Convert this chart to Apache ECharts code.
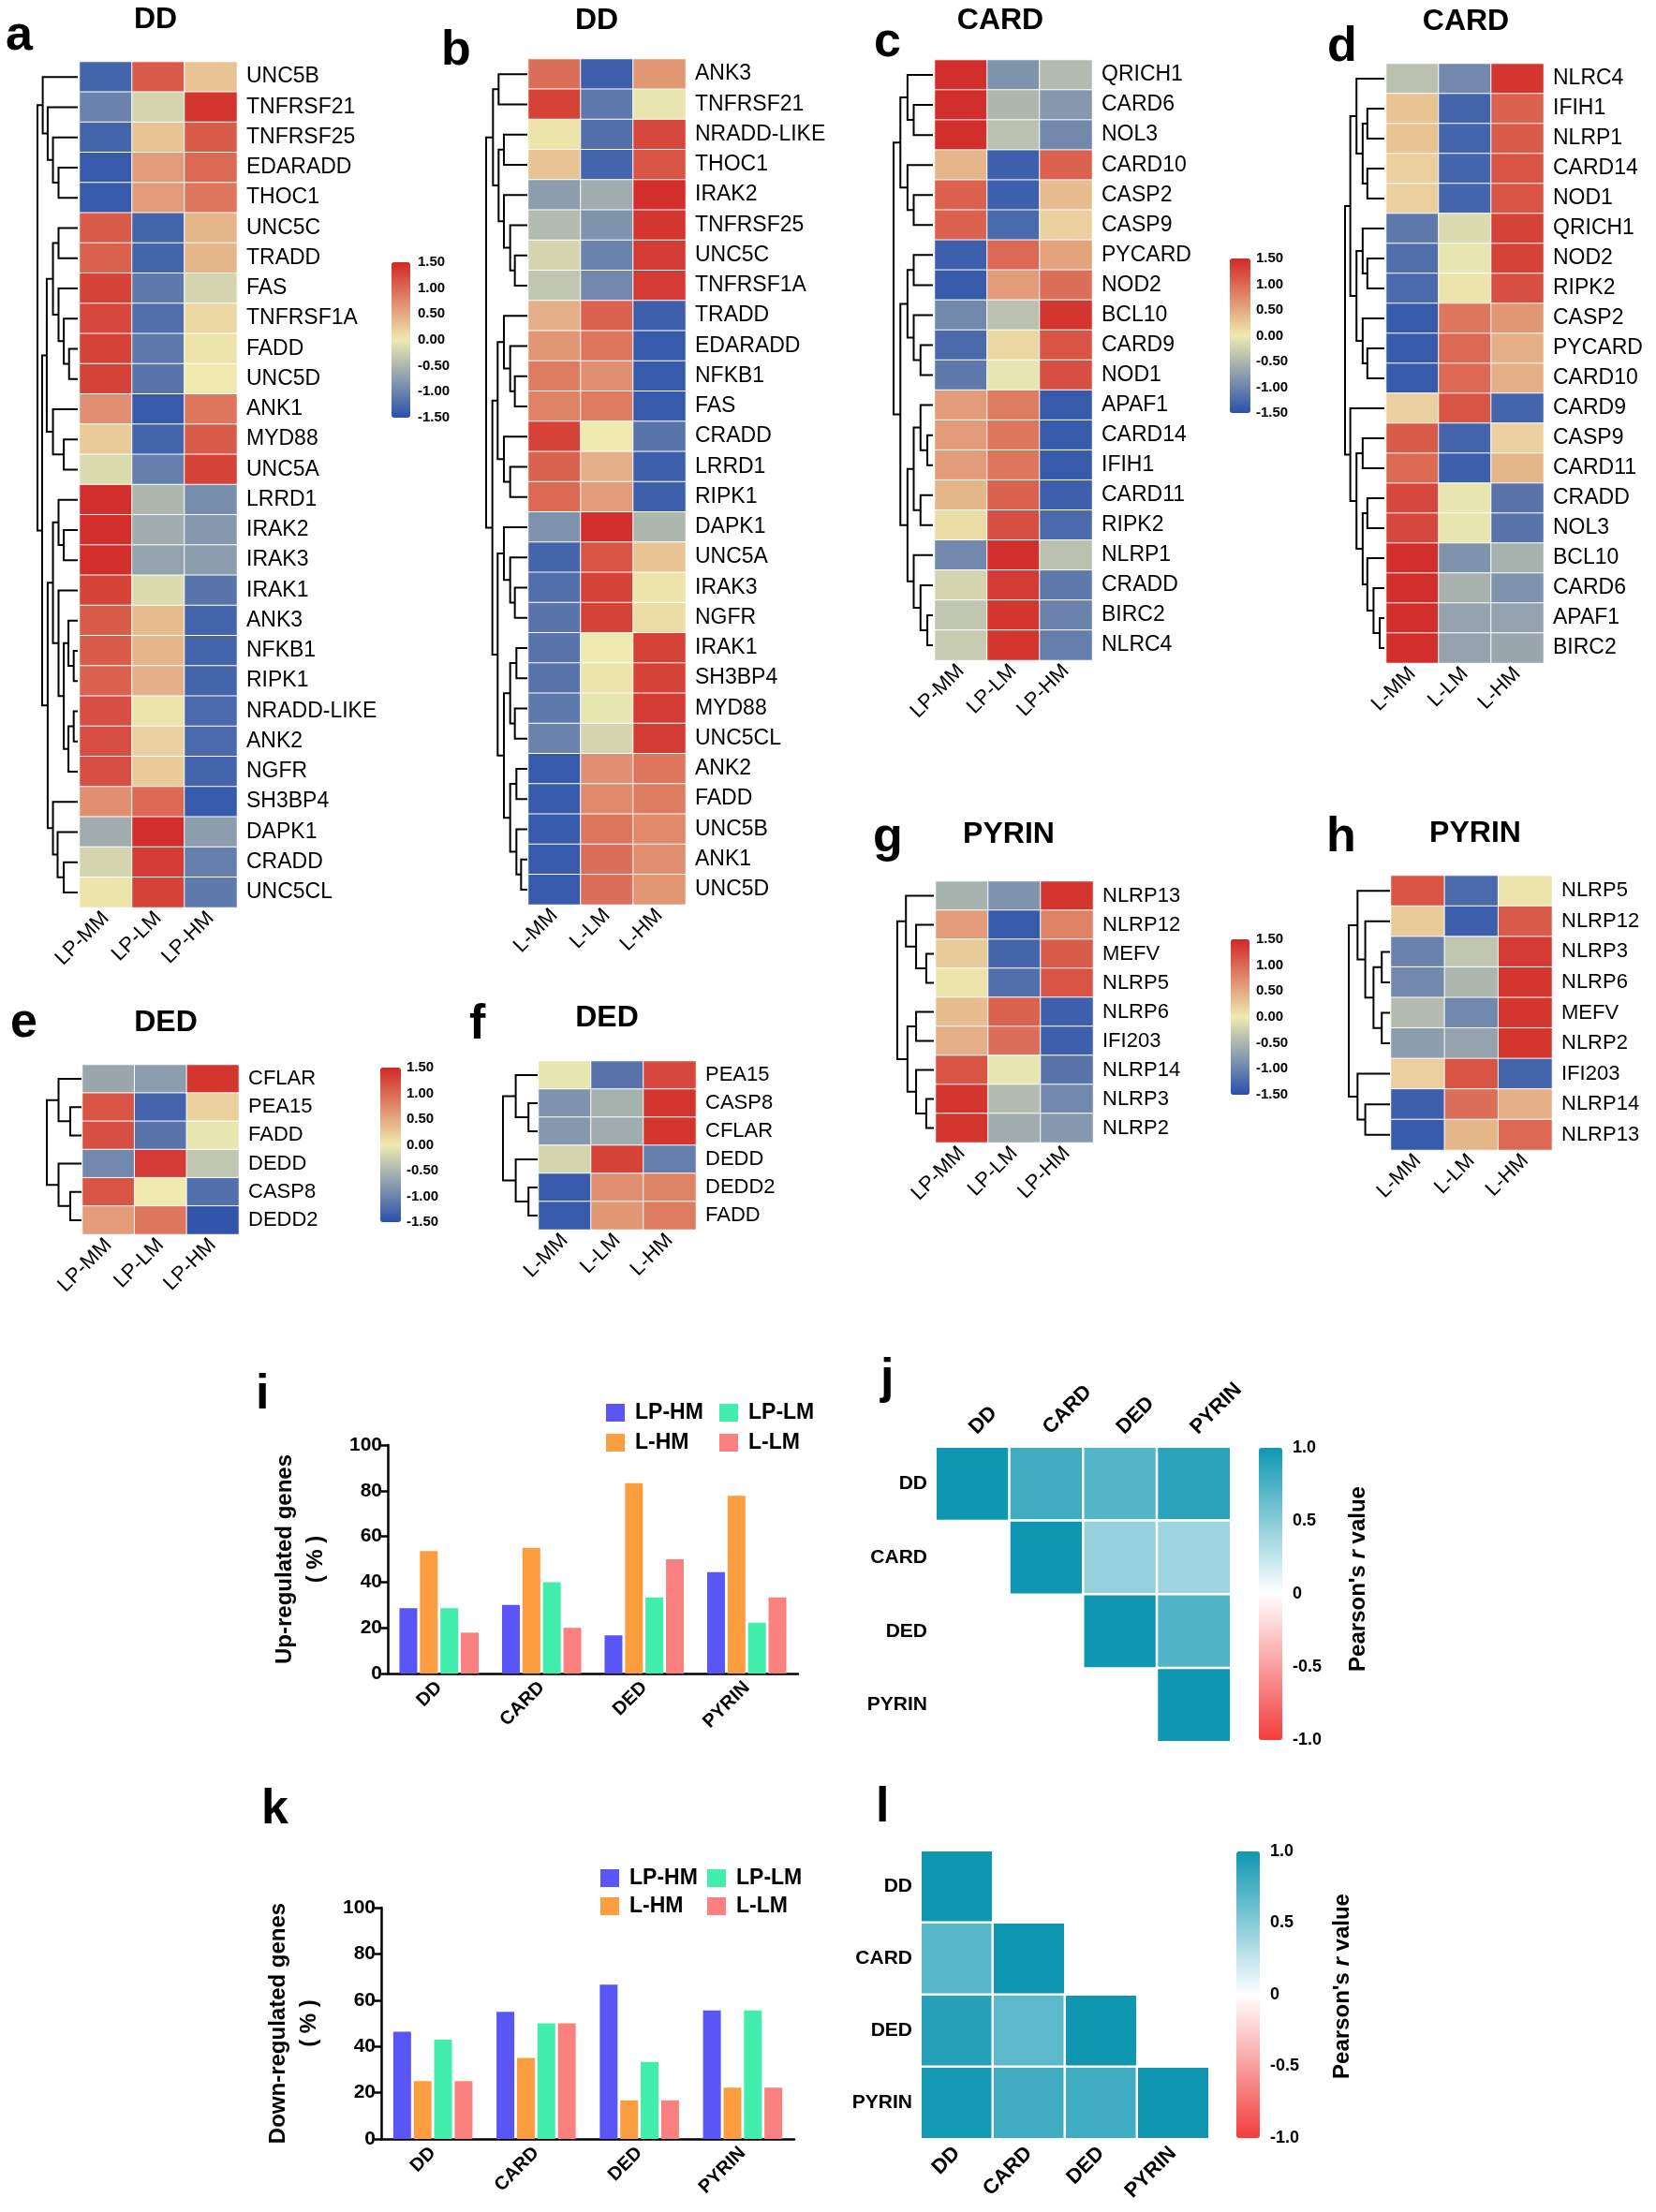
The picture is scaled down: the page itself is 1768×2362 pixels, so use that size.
<!DOCTYPE html>
<html><head><meta charset="utf-8">
<script src="https://cdn.jsdelivr.net/npm/echarts@6/dist/echarts.min.js"></script>
<style>html,body{margin:0;padding:0;background:#fff}#c{width:1768px;height:2362px}</style>
</head><body><div id="c"></div>
<script>
const FONT = '"Liberation Sans", Arial, Helvetica, sans-serif';

// ---------------- heatmap data ----------------
const colsLP = ['LP-MM', 'LP-LM', 'LP-HM'];
const colsL = ['L-MM', 'L-LM', 'L-HM'];

const genesA = ['UNC5B','TNFRSF21','TNFRSF25','EDARADD','THOC1','UNC5C','TRADD','FAS','TNFRSF1A','FADD','UNC5D','ANK1','MYD88','UNC5A','LRRD1','IRAK2','IRAK3','IRAK1','ANK3','NFKB1','RIPK1','NRADD-LIKE','ANK2','NGFR','SH3BP4','DAPK1','CRADD','UNC5CL'];
const zA = [[-1.3,1.1,0.3],[-1.0,-0.2,1.4],[-1.3,0.3,1.1],[-1.4,0.6,1.0],[-1.4,0.6,0.9],[1.1,-1.3,0.4],[1.05,-1.3,0.4],[1.3,-1.1,-0.2],[1.25,-1.2,0.15],[1.3,-1.1,0.05],[1.3,-1.15,0.0],[0.7,-1.4,0.9],[0.25,-1.3,1.1],[-0.15,-1.05,1.3],[1.45,-0.5,-0.9],[1.45,-0.6,-0.8],[1.45,-0.7,-0.75],[1.3,-0.15,-1.15],[1.1,0.35,-1.3],[1.1,0.4,-1.3],[1.05,0.45,-1.3],[1.2,0.05,-1.25],[1.2,0.2,-1.25],[1.2,0.25,-1.3],[0.7,1.0,-1.4],[-0.6,1.45,-0.75],[-0.2,1.35,-1.05],[0.05,1.3,-1.1]];
const treeA = [130,[113,0,[97,1,[80,2,[62,3,4]]]],[115,[100,[80,[62,5,6],[62,7,[45,8,[28,9,10]]]],[80,11,[45,12,13]]],[97,[80,[62,14,[45,15,16]],[62,17,[45,[30,18,[13,19,20]],[30,[13,21,22],23]]]],[80,24,[65,25,[45,26,27]]]]]];

const genesB = ['ANK3','TNFRSF21','NRADD-LIKE','THOC1','IRAK2','TNFRSF25','UNC5C','TNFRSF1A','TRADD','EDARADD','NFKB1','FAS','CRADD','LRRD1','RIPK1','DAPK1','UNC5A','IRAK3','NGFR','IRAK1','SH3BP4','MYD88','UNC5CL','ANK2','FADD','UNC5B','ANK1','UNC5D'];
const zB = [[0.95,-1.35,0.65],[1.3,-1.1,-0.05],[0.05,-1.2,1.25],[0.3,-1.3,1.15],[-0.75,-0.6,1.45],[-0.45,-0.85,1.4],[-0.2,-1.0,1.35],[-0.35,-0.95,1.35],[0.45,1.05,-1.35],[0.65,0.9,-1.4],[0.85,0.7,-1.4],[0.8,0.85,-1.4],[1.3,0.0,-1.15],[1.05,0.45,-1.35],[1.0,0.6,-1.35],[-0.85,1.45,-0.5],[-1.3,1.15,0.3],[-1.2,1.3,0.05],[-1.15,1.3,0.1],[-1.15,0.0,1.3],[-1.15,0.05,1.3],[-1.1,-0.05,1.35],[-1.0,-0.2,1.35],[-1.4,0.7,0.9],[-1.4,0.75,0.85],[-1.4,0.9,0.75],[-1.4,0.95,0.7],[-1.4,0.95,0.65]];
const treeB = [132,[110,[92,0,1],[92,[75,2,3],[75,4,[55,5,[40,6,7]]]]],[112,[95,[75,8,[55,9,[40,10,11]]],[75,12,[55,13,14]]],[95,[75,15,[55,16,[40,17,18]]],[75,[55,[35,19,20],[40,21,22]],[55,[35,23,24],[35,25,[20,26,27]]]]]]];

const genesC = ['QRICH1','CARD6','NOL3','CARD10','CASP2','CASP9','PYCARD','NOD2','BCL10','CARD9','NOD1','APAF1','CARD14','IFIH1','CARD11','RIPK2','NLRP1','CRADD','BIRC2','NLRC4'];
const zC = [[1.45,-0.85,-0.45],[1.45,-0.5,-0.8],[1.45,-0.4,-0.95],[0.4,-1.35,1.05],[1.05,-1.35,0.35],[1.05,-1.25,0.2],[-1.35,1.0,0.55],[-1.4,0.6,0.95],[-0.95,-0.4,1.4],[-1.25,0.15,1.15],[-1.1,-0.05,1.2],[0.6,0.85,-1.4],[0.6,0.9,-1.4],[0.6,0.9,-1.4],[0.4,1.05,-1.35],[0.1,1.2,-1.25],[-0.95,1.45,-0.4],[-0.2,1.35,-1.1],[-0.35,1.4,-1.0],[-0.3,1.4,-1.05]];
const treeC = [127,[105,[82,0,[62,1,2]],[82,3,[62,4,5]]],[105,[82,[62,6,7],[62,8,[40,9,10]]],[82,[62,[40,11,[18,12,13]],[40,14,15]],[62,16,[40,17,[18,18,19]]]]]];

const genesD = ['NLRC4','IFIH1','NLRP1','CARD14','NOD1','QRICH1','NOD2','RIPK2','CASP2','PYCARD','CARD10','CARD9','CASP9','CARD11','CRADD','NOL3','BCL10','CARD6','APAF1','BIRC2'];
const zD = [[-0.4,-0.95,1.4],[0.3,-1.3,1.05],[0.3,-1.3,1.1],[0.2,-1.3,1.15],[0.2,-1.3,1.15],[-1.1,-0.15,1.3],[-1.2,-0.05,1.3],[-1.25,0.05,1.2],[-1.4,0.9,0.65],[-1.4,1.0,0.45],[-1.4,1.0,0.45],[0.2,1.15,-1.3],[1.1,-1.3,0.2],[1.0,-1.35,0.4],[1.25,-0.05,-1.15],[1.25,-0.05,-1.15],[1.45,-0.85,-0.55],[1.45,-0.55,-0.85],[1.45,-0.7,-0.7],[1.45,-0.7,-0.65]];
const treeD = [127,[110,[90,0,[70,[55,1,2],[55,3,4]]],[90,[70,5,[55,6,7]],[70,8,[55,9,10]]]],[110,11,[90,[70,12,13],[70,[55,14,15],[55,16,[35,17,[15,18,19]]]]]]];

const genesE = ['CFLAR','PEA15','FADD','DEDD','CASP8','DEDD2'];
const zE = [[-0.65,-0.75,1.4],[1.15,-1.3,0.2],[1.2,-1.15,-0.05],[-0.95,1.35,-0.35],[1.15,0.0,-1.2],[0.6,0.9,-1.45]];
const treeE = [68,[45,0,[22,1,2]],[45,3,[22,4,5]]];

const genesF = ['PEA15','CASP8','CFLAR','DEDD','DEDD2','FADD'];
const zF = [[-0.05,-1.15,1.25],[-0.85,-0.55,1.4],[-0.8,-0.6,1.4],[-0.2,1.3,-1.05],[-1.4,0.7,0.8],[-1.4,0.65,0.85]];
const treeF = [68,[43,0,[18,1,2]],[43,3,[18,4,5]]];

const genesG = ['NLRP13','NLRP12','MEFV','NLRP5','NLRP6','IFI203','NLRP14','NLRP3','NLRP2'];
const zG = [[-0.55,-0.85,1.4],[0.6,-1.4,0.8],[0.25,-1.3,1.1],[0.05,-1.2,1.15],[0.35,1.05,-1.35],[0.45,0.95,-1.35],[1.15,-0.05,-1.15],[1.4,-0.45,-0.95],[1.4,-0.6,-0.8]];
const treeG = [72,[55,0,[35,1,[15,2,3]]],[52,[35,4,5],[35,6,[15,7,8]]]];

const genesH = ['NLRP5','NLRP12','NLRP3','NLRP6','MEFV','NLRP2','IFI203','NLRP14','NLRP13'];
const zH = [[1.15,-1.25,0.05],[0.25,-1.35,1.1],[-1.0,-0.35,1.35],[-0.95,-0.5,1.4],[-0.45,-0.95,1.4],[-0.75,-0.7,1.4],[0.2,1.15,-1.3],[-1.35,0.95,0.45],[-1.4,0.4,1.0]];
const treeH = [80,[63,0,[48,1,[32,[16,2,3],[16,4,5]]]],[63,6,[48,7,8]]];

// ---------------- bar data ----------------
const barCats = ['DD', 'CARD', 'DED', 'PYRIN'];
const groupNames = ['LP-HM', 'L-HM', 'LP-LM', 'L-LM'];
const upLPHM = [28.6, 30.0, 16.7, 44.4];
const upLHM = [53.6, 55.0, 83.3, 77.8];
const upLPLM = [28.6, 40.0, 33.3, 22.2];
const upLLM = [17.9, 20.0, 50.0, 33.3];
const downLPHM = [46.4, 55.0, 66.7, 55.6];
const downLHM = [25.0, 35.0, 16.7, 22.2];
const downLPLM = [42.9, 50.0, 33.3, 55.6];
const downLLM = [25.0, 50.0, 16.7, 22.2];
const yTicks = [0, 20, 40, 60, 80, 100];

// ---------------- correlation data ----------------
const domains = ['DD', 'CARD', 'DED', 'PYRIN'];
const corrUp = [[1, 0.80, 0.71, 0.88],[null, 1, 0.44, 0.40],[null, null, 1, 0.72],[null, null, null, 1]];
const corrDown = [[1, null, null, null],[0.69, 1, null, null],[0.90, 0.68, 1, null],[0.98, 0.80, 0.80, 1]];

// ---------------- styles ----------------
const zColors = ['#2a50aa', '#eeeab0', '#d12826'];
const rColors = ['#f23d3d', '#ffffff', '#0f97b2'];
const barColors = {'LP-HM': '#5a55f6', 'L-HM': '#fc9e3f', 'LP-LM': '#42eeab', 'L-LM': '#fb8181'};

const option = {
  animation: false, backgroundColor: '#fff',
  textStyle: {fontFamily: FONT, color: '#000'},
  grid: [], xAxis: [], yAxis: [], series: [], visualMap: [], legend: [],
  graphic: {elements: []}
};
function addGrid(g) { option.grid.push(Object.assign({outerBoundsMode: 'none', containLabel: false}, g)); return option.grid.length - 1; }
function addX(a) { option.xAxis.push(a); return option.xAxis.length - 1; }
function addY(a) { option.yAxis.push(a); return option.yAxis.length - 1; }
function addS(s) { option.series.push(s); return option.series.length - 1; }

function walk(node, segs) {
  if (typeof node === 'number') return {y: node, h: 0};
  const L = walk(node[1], segs), R = walk(node[2], segs);
  segs.push([[L.h, L.y], [node[0], L.y], [node[0], R.y], [R.h, R.y]]);
  return {y: (L.y + R.y) / 2, h: node[0]};
}

function heatPanel(p) {
  const g = addGrid(p.grid);
  const xi = addX({gridIndex: g, type: 'category', data: p.cols, axisLine: {show: false}, axisTick: {show: false}, splitLine: {show: false},
    axisLabel: {interval: 0, rotate: 45, fontSize: p.xfs, color: '#000', margin: 8, fontFamily: FONT}});
  const yi = addY({gridIndex: g, type: 'category', data: p.genes, inverse: true, position: 'right', axisLine: {show: false}, axisTick: {show: false}, splitLine: {show: false},
    axisLabel: {interval: 0, fontSize: p.fs, color: '#000', margin: 10, fontFamily: FONT}});
  const data = [];
  p.z.forEach((row, r) => row.forEach((v, c) => data.push([c, r, v])));
  const si = addS({type: 'heatmap', xAxisIndex: xi, yAxisIndex: yi, data: data,
    itemStyle: {borderColor: '#fff', borderWidth: 1}, emphasis: {disabled: true}});
  const dg = addGrid({left: p.dendro.left, width: p.dendro.width, top: p.grid.top, height: p.grid.height});
  const n = p.genes.length;
  const dx = addX({gridIndex: dg, type: 'value', min: 0, max: p.tree[0], inverse: true, show: false});
  const dy = addY({gridIndex: dg, type: 'value', min: -0.5, max: n - 0.5, inverse: true, show: false});
  const segs = [];
  walk(p.tree, segs);
  addS({type: 'lines', coordinateSystem: 'cartesian2d', xAxisIndex: dx, yAxisIndex: dy, polyline: true,
    data: segs.map(c => ({coords: c})), lineStyle: {color: '#000', width: 2, opacity: 1}, silent: true});
  return si;
}

function colorbar(box, seriesIdx, min, max, colors, interval, fmt, fs, margin, ticks) {
  option.visualMap.push({type: 'continuous', min: min, max: max, seriesIndex: seriesIdx, left: box.left, top: box.top,
    itemWidth: box.width, itemHeight: box.height, padding: 0, calculable: false, inRange: {color: colors}, text: null, hoverLink: false});
  const g = addGrid(box);
  addX({gridIndex: g, type: 'value', show: false, min: 0, max: 1});
  addY({gridIndex: g, type: 'value', min: min, max: max, interval: interval, position: 'right',
    axisLine: {show: false}, splitLine: {show: false},
    axisTick: ticks ? {show: true, inside: true, length: 5, lineStyle: {color: '#fff', width: 2}} : {show: false},
    axisLabel: {formatter: fmt, fontSize: fs, fontWeight: 'bold', color: '#000', margin: margin, fontFamily: FONT}});
  if (ticks) {
    addY({gridIndex: g, type: 'value', min: min, max: max, interval: interval, position: 'left',
      axisLine: {show: false}, splitLine: {show: false}, axisLabel: {show: false},
      axisTick: {show: true, inside: true, length: 5, lineStyle: {color: '#fff', width: 2}}});
  }
}

// -------- heatmaps --------
const sA = heatPanel({genes: genesA, z: zA, cols: colsLP, tree: treeA, grid: {left: 85, top: 66, width: 168, height: 903}, dendro: {left: 40, width: 43}, fs: 23, xfs: 22});
const sB = heatPanel({genes: genesB, z: zB, cols: colsL, tree: treeB, grid: {left: 564, top: 63, width: 168, height: 903}, dendro: {left: 519, width: 44}, fs: 23, xfs: 22});
const sC = heatPanel({genes: genesC, z: zC, cols: colsLP, tree: treeC, grid: {left: 998, top: 64, width: 168, height: 641}, dendro: {left: 954, width: 42}, fs: 23, xfs: 22});
const sD = heatPanel({genes: genesD, z: zD, cols: colsL, tree: treeD, grid: {left: 1480, top: 68, width: 168, height: 640}, dendro: {left: 1436, width: 42}, fs: 23, xfs: 22});
const sE = heatPanel({genes: genesE, z: zE, cols: colsLP, tree: treeE, grid: {left: 88, top: 1137, width: 167, height: 181}, dendro: {left: 50, width: 37}, fs: 22, xfs: 22});
const sF = heatPanel({genes: genesF, z: zF, cols: colsL, tree: treeF, grid: {left: 575, top: 1133, width: 168, height: 180}, dendro: {left: 537, width: 37}, fs: 22, xfs: 22});
const sG = heatPanel({genes: genesG, z: zG, cols: colsLP, tree: treeG, grid: {left: 999, top: 941, width: 168, height: 279}, dendro: {left: 958, width: 39}, fs: 22, xfs: 22});
const sH = heatPanel({genes: genesH, z: zH, cols: colsL, tree: treeH, grid: {left: 1485, top: 935, width: 172, height: 293}, dendro: {left: 1440, width: 44}, fs: 22, xfs: 22});

const fmt2 = v => v.toFixed(2);
colorbar({left: 418, top: 280, width: 20, height: 166}, [sA, sB], -1.5, 1.5, zColors, 0.5, fmt2, 15, 8, false);
colorbar({left: 1313, top: 276, width: 22, height: 165}, [sC, sD], -1.5, 1.5, zColors, 0.5, fmt2, 15, 6, false);
colorbar({left: 406, top: 1140, width: 22, height: 165}, [sE, sF], -1.5, 1.5, zColors, 0.5, fmt2, 15, 6, false);
colorbar({left: 1314, top: 1003, width: 20, height: 166}, [sG, sH], -1.5, 1.5, zColors, 0.5, fmt2, 15, 7, false);

// -------- bar charts --------
function barPanel(box, seriesData, title, legendPos) {
  const g = addGrid(box);
  const xi = addX({gridIndex: g, type: 'category', data: barCats,
    axisLine: {lineStyle: {color: '#000', width: 2.5}},
    axisTick: {alignWithLabel: true, length: 7, lineStyle: {color: '#000', width: 2.5}},
    axisLabel: {interval: 0, rotate: 45, fontSize: 20, fontWeight: 'bold', color: '#000', margin: 12, fontFamily: FONT}});
  const yi = addY({gridIndex: g, type: 'value', min: yTicks[0], max: yTicks[yTicks.length - 1], interval: yTicks[1] - yTicks[0],
    axisLine: {show: true, lineStyle: {color: '#000', width: 2.5}},
    axisTick: {show: true, length: 7, lineStyle: {color: '#000', width: 2.5}},
    splitLine: {show: false},
    axisLabel: {fontSize: 21, fontWeight: 'bold', color: '#000', margin: 6, fontFamily: FONT},
    name: title + '\n( % )', nameLocation: 'middle', nameRotate: 90, nameGap: 60,
    nameTextStyle: {fontSize: 24, fontWeight: 'bold', color: '#000', lineHeight: 33, fontFamily: FONT}});
  groupNames.forEach((nm, i) => {
    addS({type: 'bar', name: nm, xAxisIndex: xi, yAxisIndex: yi, data: seriesData[i], barWidth: 19, barGap: '15%',
      itemStyle: {color: barColors[nm]}, emphasis: {disabled: true}});
  });
  const lg = {orient: 'vertical', itemWidth: 20, itemHeight: 19, itemGap: legendPos.gap, padding: 0, icon: 'rect', selectedMode: false,
    textStyle: {fontSize: 23, fontWeight: 'bold', color: '#000', fontFamily: FONT, padding: [0, 0, 0, 6]}};
  option.legend.push(Object.assign({}, lg, {data: ['LP-HM', 'L-HM'], left: legendPos.x1, top: legendPos.top}));
  option.legend.push(Object.assign({}, lg, {data: ['LP-LM', 'L-LM'], left: legendPos.x2, top: legendPos.top}));
}
barPanel({left: 414, top: 1543, width: 438, height: 244}, [upLPHM, upLHM, upLPLM, upLLM], 'Up-regulated genes', {x1: 647, x2: 768, top: 1497, gap: 9});
barPanel({left: 407, top: 2037, width: 441, height: 247}, [downLPHM, downLHM, downLPLM, downLLM], 'Down-regulated genes', {x1: 641, x2: 755, top: 1994, gap: 7});

// -------- correlation heatmaps --------
function corrPanel(box, mat, xPos) {
  const g = addGrid(box);
  const lab = {interval: 0, rotate: xPos === 'top' ? -45 : 45, fontSize: 22, fontWeight: 'bold', color: '#000', margin: xPos === 'top' ? 17 : 12, fontFamily: FONT};
  const xi = addX({gridIndex: g, type: 'category', data: domains, position: xPos, axisLine: {show: false}, axisTick: {show: false}, splitLine: {show: false},
    axisLabel: lab});
  const yi = addY({gridIndex: g, type: 'category', data: domains, inverse: true, axisLine: {show: false}, axisTick: {show: false}, splitLine: {show: false},
    axisLabel: {interval: 0, fontSize: 21, fontWeight: 'bold', color: '#000', margin: 9, fontFamily: FONT}});
  const data = [];
  mat.forEach((row, r) => row.forEach((v, c) => { if (v !== null) data.push([c, r, v]); }));
  return addS({type: 'heatmap', xAxisIndex: xi, yAxisIndex: yi, data: data,
    itemStyle: {borderColor: '#fff', borderWidth: 2.5}, emphasis: {disabled: true}});
}
const fmt1 = v => (v === 0 ? '0' : v.toFixed(1));
const sJ = corrPanel({left: 999, top: 1545, width: 315, height: 315}, corrUp, 'top');
colorbar({left: 1344, top: 1546, width: 25, height: 312}, [sJ], -1, 1, rColors, 0.5, fmt1, 18, 11, true);
const sL = corrPanel({left: 983, top: 1976, width: 308, height: 308}, corrDown, 'bottom');
colorbar({left: 1320, top: 1977, width: 25, height: 306}, [sL], -1, 1, rColors, 0.5, fmt1, 18, 11, true);

// -------- texts --------
const letters = [['a', 6, 13], ['b', 471, 29], ['c', 933, 20], ['d', 1417, 25], ['e', 11, 1067], ['f', 501, 1069],
  ['g', 932, 869], ['h', 1416, 869], ['i', 273, 1464], ['j', 940, 1447], ['k', 279, 1907], ['l', 935, 1905]];
letters.forEach(([t, x, y]) => option.graphic.elements.push({type: 'text', x: x, y: y, silent: true,
  style: {text: t, font: 'bold 52px ' + FONT, fill: '#000', align: 'left', verticalAlign: 'top', textAlign: 'left', textVerticalAlign: 'top'}}));
const titles = [['DD', 166, 5], ['DD', 637, 6], ['CARD', 1068, 6], ['CARD', 1565, 7], ['DED', 177, 1076], ['DED', 648, 1071], ['PYRIN', 1077, 875], ['PYRIN', 1575, 874]];
titles.forEach(([t, x, y]) => option.graphic.elements.push({type: 'text', x: x, y: y, silent: true,
  style: {text: t, font: 'bold 32px ' + FONT, fill: '#000', align: 'center', verticalAlign: 'top', textAlign: 'center', textVerticalAlign: 'top'}}));
[[1450, 1686], [1433, 2121]].forEach(([x, y]) => option.graphic.elements.push({type: 'text', x: x, y: y, rotation: Math.PI / 2, silent: true,
  style: {text: "{a|Pearson's }{b|r}{a| value}", fill: '#000', align: 'center', verticalAlign: 'middle', textAlign: 'center', textVerticalAlign: 'middle',
    rich: {a: {fontSize: 24, fontWeight: 'bold', fontFamily: FONT, fill: '#000', color: '#000'}, b: {fontSize: 24, fontWeight: 'bold', fontStyle: 'italic', fontFamily: FONT, fill: '#000', color: '#000'}}}}));

const chart = echarts.init(document.getElementById('c'), null, {renderer: 'canvas'});
chart.setOption(option);
</script></body></html>
